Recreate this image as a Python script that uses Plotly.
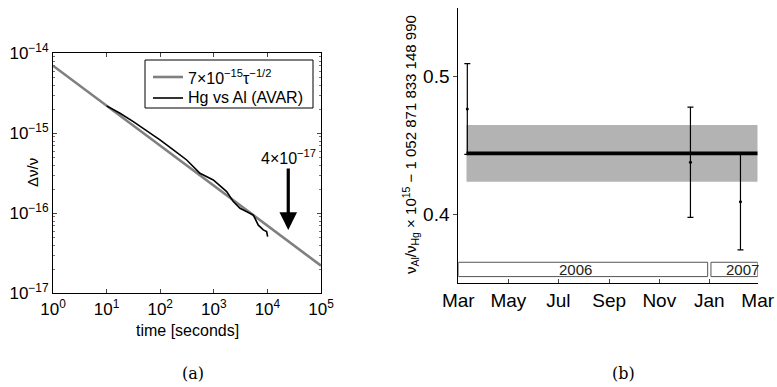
import numpy as np
import plotly.graph_objects as go

# ---------------- data: panel (a) ----------------
tau_fit = [1, 1e5]
fit_coef = 7e-15
avar_tau = [10, 17.8, 31.5, 55.9, 99, 176, 312, 552, 978, 1738, 2312, 3083, 4733, 5468, 6770, 8400, 9680, 10100]
avar_dev = [2.2e-15, 1.78e-15, 1.40e-15, 1.08e-15, 8.26e-16, 6.19e-16, 4.64e-16, 3.16e-16, 2.61e-16,
            1.87e-16, 1.40e-16, 1.155e-16, 1.0e-16, 9.5e-17, 7.1e-17, 6.2e-17, 5.9e-17, 5.1e-17]
a_xticks = [1, 10, 100, 1e3, 1e4, 1e5]
a_xticktext = ["10<sup>0</sup>", "10<sup>1</sup>", "10<sup>2</sup>", "10<sup>3</sup>", "10<sup>4</sup>", "10<sup>5</sup>"]
a_yticks = [1e-17, 1e-16, 1e-15, 1e-14]
a_yticktext = ["10<sup>−17</sup>", "10<sup>−16</sup>", "10<sup>−15</sup>", "10<sup>−14</sup>"]
a_yminor = [k * 10.0 ** e for e in (-17, -16, -15) for k in range(2, 10)]
legend_labels = ["7×10<sup>−15</sup>τ<sup>−1/2</sup>", "Hg vs Al (AVAR)"]
arrow_tau = 24500
arrow_tip = 6.2e-17
arrow_tail = 3.8e-16
arrow_label_y = 5.06e-16

# ---------------- data: panel (b) ----------------
b_dates = ["2006-03-12", "2006-12-09", "2007-02-08"]
b_vals = [0.4765, 0.4378, 0.4092]
b_errs = [0.033, 0.040, 0.035]
mean_val = 0.4443
mean_unc = 0.0206
mean_span = ["2006-03-11", "2007-03-01"]
b_xticks = ["2006-03-01", "2006-05-01", "2006-07-01", "2006-09-01", "2006-11-01", "2007-01-01", "2007-03-01"]
b_xticktext = ["Mar", "May", "Jul", "Sep", "Nov", "Jan", "Mar"]
b_yticks = [0.4, 0.5]
years = ["2006", "2007"]
year_start = ["2006-03-01", "2007-01-03"]
year_end = ["2006-12-30", "2007-03-01"]
year_label_x = ["2006-07-22", "2007-02-10"]
year_box_y = [0.3548, 0.3652]

FONT = "Liberation Sans"
W, H = 777, 387

fig = go.Figure()

# panel (a)
fit_tau = np.logspace(np.log10(tau_fit[0]), np.log10(tau_fit[1]), 50)
fig.add_trace(go.Scatter(x=fit_tau, y=fit_coef / np.sqrt(fit_tau), mode="lines",
                         line=dict(color="#808080", width=2.6),
                         name=legend_labels[0], showlegend=False, xaxis="x", yaxis="y"))
fig.add_trace(go.Scatter(x=avar_tau, y=avar_dev, mode="lines",
                         line=dict(color="black", width=1.6),
                         name=legend_labels[1], showlegend=False, xaxis="x", yaxis="y"))

# panel (b)
fig.add_trace(go.Scatter(x=[mean_span[0], mean_span[1], mean_span[1], mean_span[0], mean_span[0]],
                         y=[mean_val + mean_unc, mean_val + mean_unc, mean_val - mean_unc,
                            mean_val - mean_unc, mean_val + mean_unc],
                         mode="lines", fill="toself", fillcolor="#b3b3b3", line=dict(width=0),
                         showlegend=False, hoverinfo="skip", xaxis="x2", yaxis="y2"))
fig.add_trace(go.Scatter(x=mean_span, y=[mean_val, mean_val], mode="lines",
                         line=dict(color="black", width=3.8), showlegend=False,
                         xaxis="x2", yaxis="y2"))
fig.add_trace(go.Scatter(x=b_dates, y=b_vals, mode="markers",
                         marker=dict(color="black", size=3),
                         error_y=dict(type="data", array=b_errs, color="black", thickness=1.2, width=3),
                         showlegend=False, xaxis="x2", yaxis="y2"))

for s, e in zip(year_start, year_end):
    fig.add_shape(type="rect", xref="x2", yref="y2", x0=s, x1=e, y0=year_box_y[0], y1=year_box_y[1],
                  line=dict(color="#555555", width=1), fillcolor="white", layer="above")
for lbl, lx in zip(years, year_label_x):
    fig.add_annotation(xref="x2", yref="y2", x=lx, y=(year_box_y[0] + year_box_y[1]) / 2, text=lbl,
                       showarrow=False, font=dict(family=FONT, size=15, color="#222"),
                       yanchor="middle", xanchor="center")

# manual legend for (a)
fig.add_shape(type="rect", xref="paper", yref="paper", x0=145 / W, x1=313 / W, y0=1 - 108 / H, y1=1 - 60 / H,
              line=dict(color="black", width=1), fillcolor="white", layer="above")
for ly, col, wd, lab in [(77, "#808080", 2.6, legend_labels[0]), (98, "black", 1.6, legend_labels[1])]:
    fig.add_shape(type="line", xref="paper", yref="paper", x0=153 / W, x1=183 / W, y0=1 - ly / H, y1=1 - ly / H,
                  line=dict(color=col, width=wd), layer="above")
    fig.add_annotation(xref="paper", yref="paper", x=186 / W, y=1 - ly / H, text=lab, showarrow=False,
                       font=dict(family=FONT, size=16, color="black"), xanchor="left", yanchor="middle")

# arrow + label in (a)
fig.add_annotation(xref="x", yref="y", axref="x", ayref="y",
                   x=np.log10(arrow_tau), y=np.log10(arrow_tip),
                   ax=np.log10(arrow_tau), ay=np.log10(arrow_tail),
                   text="", showarrow=True, arrowhead=2, arrowsize=1.1, arrowwidth=3.2, arrowcolor="black")
fig.add_annotation(xref="x", yref="y", x=np.log10(arrow_tau), y=np.log10(arrow_label_y),
                   text="4×10<sup>−17</sup>", showarrow=False, font=dict(family=FONT, size=16, color="black"),
                   xanchor="center", yanchor="middle")

# axis titles as annotations
fig.add_annotation(xref="paper", yref="paper", x=187 / W, y=1 - 330 / H, text="time [seconds]",
                   showarrow=False, font=dict(family=FONT, size=16, color="black"),
                   xanchor="center", yanchor="middle")
fig.add_annotation(xref="paper", yref="paper", x=32 / W, y=1 - 173 / H, text="Δν/ν", textangle=-90,
                   showarrow=False, font=dict(family=FONT, size=15, color="black"),
                   xanchor="center", yanchor="middle")
fig.add_annotation(xref="paper", yref="paper", x=410 / W, y=1 - 145 / H,
                   text="ν<sub>Al</sub>/ν<sub>Hg</sub> × 10<sup>15</sup> − 1 052 871 833 148 990",
                   textangle=-90, showarrow=False, font=dict(family=FONT, size=15, color="black"),
                   xanchor="center", yanchor="middle")
fig.add_annotation(xref="paper", yref="paper", x=193 / W, y=1 - 373 / H, text="(a)",
                   showarrow=False, font=dict(family="DejaVu Serif", size=16, color="black"),
                   xanchor="center", yanchor="middle")
fig.add_annotation(xref="paper", yref="paper", x=623 / W, y=1 - 373 / H, text="(b)",
                   showarrow=False, font=dict(family="DejaVu Serif", size=16, color="black"),
                   xanchor="center", yanchor="middle")

fig.update_layout(
    width=W, height=H, margin=dict(l=0, r=0, t=0, b=0, autoexpand=False),
    paper_bgcolor="white", plot_bgcolor="white",
    font=dict(family=FONT, color="black"),
    xaxis=dict(type="log", range=[0, 5], domain=[53 / W, 321 / W], anchor="y", automargin=False,
               tickvals=a_xticks, ticktext=a_xticktext, ticks="inside", ticklen=4,
               showline=True, linecolor="black", linewidth=1, mirror="allticks",
               showgrid=False, zeroline=False, tickfont=dict(family=FONT, size=17)),
    yaxis=dict(type="log", range=[-17, -14], domain=[1 - 293.3 / H, 1 - 53.3 / H], anchor="x", automargin=False,
               tickvals=a_yticks, ticktext=a_yticktext, ticks="inside", ticklen=4,
               minor=dict(tickmode="array", tickvals=a_yminor, ticks="inside", ticklen=2,
                          tickcolor="#777777", showgrid=False),
               showline=True, linecolor="black", linewidth=1, mirror="allticks",
               showgrid=False, zeroline=False, tickfont=dict(family=FONT, size=17)),
    xaxis2=dict(type="date", range=["2006-03-01", "2007-03-01"], domain=[458.3 / W, 757.7 / W], anchor="y2",
                automargin=False,
                tickvals=b_xticks, ticktext=b_xticktext, ticks="inside", ticklen=4,
                showline=True, linecolor="black", linewidth=1, showgrid=False, zeroline=False,
                tickfont=dict(family=FONT, size=19)),
    yaxis2=dict(range=[0.35, 0.55], domain=[1 - 283.2 / H, 1 - 7.8 / H], anchor="x2", automargin=False,
                tickvals=b_yticks, tickformat=".1f", ticks="outside", ticklen=4,
                showline=True, linecolor="black", linewidth=1, showgrid=False, zeroline=False,
                tickfont=dict(family=FONT, size=19)),
    showlegend=False,
)

fig.write_html("out.html")
